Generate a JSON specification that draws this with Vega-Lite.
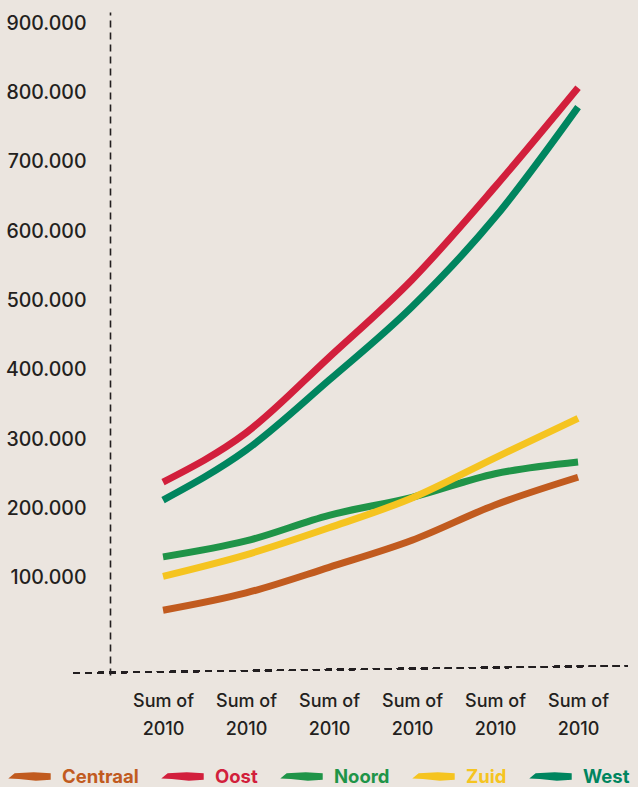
{
  "$schema": "https://vega.github.io/schema/vega-lite/v6.json",
  "autosize": {"type": "none"},
  "padding": {"left": 110, "top": 12, "right": 10, "bottom": 112},
  "width": 518,
  "height": 663,
  "background": "#ebe5df",
  "config": {
    "view": {"stroke": null},
    "font": "Inter"
  },
  "data": {
    "values": [
      {"i": 1, "region": "Oost", "value": 238000},
      {"i": 2, "region": "Oost", "value": 309000},
      {"i": 3, "region": "Oost", "value": 418000},
      {"i": 4, "region": "Oost", "value": 530000},
      {"i": 5, "region": "Oost", "value": 664000},
      {"i": 6, "region": "Oost", "value": 807000},
      {"i": 1, "region": "West", "value": 212000},
      {"i": 2, "region": "West", "value": 284000},
      {"i": 3, "region": "West", "value": 385000},
      {"i": 4, "region": "West", "value": 491000},
      {"i": 5, "region": "West", "value": 620000},
      {"i": 6, "region": "West", "value": 779000},
      {"i": 1, "region": "Noord", "value": 130000},
      {"i": 2, "region": "Noord", "value": 153000},
      {"i": 3, "region": "Noord", "value": 190000},
      {"i": 4, "region": "Noord", "value": 216000},
      {"i": 5, "region": "Noord", "value": 250000},
      {"i": 6, "region": "Noord", "value": 267000},
      {"i": 1, "region": "Zuid", "value": 102000},
      {"i": 2, "region": "Zuid", "value": 133000},
      {"i": 3, "region": "Zuid", "value": 172000},
      {"i": 4, "region": "Zuid", "value": 215000},
      {"i": 5, "region": "Zuid", "value": 273000},
      {"i": 6, "region": "Zuid", "value": 330000},
      {"i": 1, "region": "Centraal", "value": 53000},
      {"i": 2, "region": "Centraal", "value": 78000},
      {"i": 3, "region": "Centraal", "value": 115000},
      {"i": 4, "region": "Centraal", "value": 154000},
      {"i": 5, "region": "Centraal", "value": 205000},
      {"i": 6, "region": "Centraal", "value": 245000}
    ]
  },
  "layer": [
    {
      "mark": {"type": "rule", "stroke": "#231f20", "strokeWidth": 1.6, "strokeDash": [7, 5]},
      "encoding": {
        "x": {"datum": -0.085, "type": "quantitative"},
        "x2": {"datum": 6.6},
        "y": {"datum": -37500, "type": "quantitative"},
        "y2": {"datum": -27000}
      }
    },
    {
      "mark": {"type": "line", "strokeWidth": 7, "interpolate": "monotone", "strokeCap": "butt"},
      "encoding": {
        "x": {
          "field": "i",
          "type": "quantitative",
          "scale": {"domain": [0.361, 6.602], "nice": false, "zero": false},
          "axis": {
            "title": null,
            "values": [1, 2, 3, 4, 5, 6],
            "labelExpr": "['Sum of', '2010']",
            "labelLineHeight": 28,
            "labelFontSize": 18,
            "labelFontWeight": 500,
            "labelColor": "#231f20",
            "labelPadding": 17,
            "labelBaseline": "top",
            "ticks": false,
            "grid": false,
            "domain": false
          }
        },
        "y": {
          "field": "value",
          "type": "quantitative",
          "scale": {"domain": [-40400, 916300], "nice": false, "zero": false},
          "axis": {
            "title": null,
            "values": [100000, 200000, 300000, 400000, 500000, 600000, 700000, 800000, 900000],
            "labelExpr": "replace(format(datum.value, ','), ',', '.')",
            "labelFontSize": 19.5,
            "labelFontWeight": 500,
            "labelColor": "#231f20",
            "labelPadding": 24,
            "ticks": false,
            "grid": false,
            "domain": true,
            "domainColor": "#231f20",
            "domainWidth": 1.6,
            "domainDash": [7, 5]
          }
        },
        "color": {
          "field": "region",
          "type": "nominal",
          "scale": {
            "domain": ["Centraal", "Oost", "Noord", "Zuid", "West"],
            "range": ["#c15b1f", "#d21f3c", "#1f9448", "#f5c420", "#00855f"]
          },
          "legend": {
            "title": null,
            "orient": "none",
            "direction": "horizontal",
            "legendX": -102,
            "legendY": 743,
            "symbolType": "M-1,0.1L-0.7,-0.15L0.2,-0.2L1,-0.15L1,0.15L0.3,0.2L-0.5,0.12Z",
            "symbolSize": 1800,
            "symbolStrokeWidth": 0,
            "labelFontSize": 18.5,
            "labelFontWeight": "bold",
            "labelOffset": 11,
            "columnPadding": 22,
            "encode": {
              "labels": {"update": {"fill": {"scale": "color", "field": "value"}}},
              "symbols": {"update": {"fill": {"scale": "color", "field": "value"}, "strokeWidth": {"value": 0}}}
            }
          }
        }
      }
    }
  ]
}
